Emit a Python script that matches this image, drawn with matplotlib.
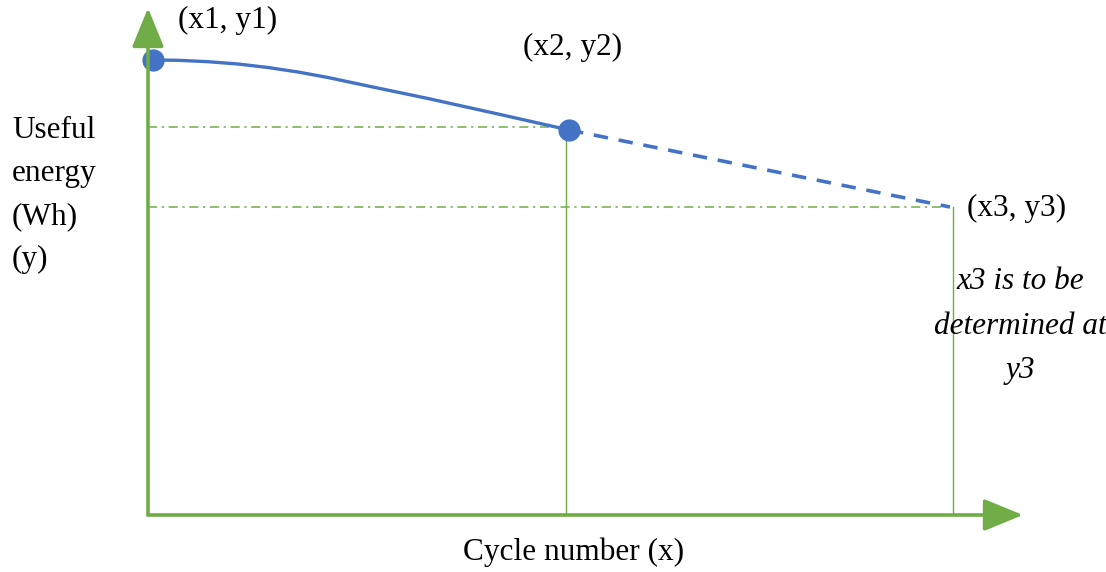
import matplotlib
matplotlib.use("Agg")
import matplotlib.pyplot as plt

# curve (x = cycle number, y = useful energy), arbitrary units
curve_x = [5, 30, 60, 90, 120, 150, 180, 220, 280, 350, 421]
curve_y = [455, 454.7, 453.3, 451, 447.5, 443, 437.5, 429, 416.5, 401, 385]

point_x = [5, 421, 802]
point_y = [455, 385, 308]
point_labels = ["(x1, y1)", "(x2, y2)", "(x3, y3)"]

BLUE = "#4472C4"
GREEN = "#70AD47"

plt.rcParams['font.family'] = ['Liberation Serif', 'DejaVu Serif']

fig = plt.figure(figsize=(11.06, 5.72), dpi=100)
ax = fig.add_axes([0, 0, 1, 1])
ax.set_xlim(-148, 1106 - 148)
ax.set_ylim(515 - 572, 515)
ax.axis('off')

# axes with arrow heads
arrow = dict(arrowstyle='-|>,head_length=1.1,head_width=0.45', color=GREEN,
             lw=2.6, mutation_scale=22, shrinkA=0, shrinkB=0)
ax.annotate('', xy=(0, 507), xytext=(0, 0), arrowprops=arrow)
ax.annotate('', xy=(875, 0), xytext=(0, 0), arrowprops=arrow)

# guide lines
dashdot = (0, (6, 3, 1.5, 3))
ax.plot([0, point_x[1]], [point_y[1] + 3, point_y[1] + 3], color=GREEN, lw=1.1, ls=dashdot)
ax.plot([0, point_x[2]], [point_y[2], point_y[2]], color=GREEN, lw=1.1, ls=dashdot)
ax.plot([point_x[1] - 3, point_x[1] - 3], [0, point_y[1]], color=GREEN, lw=1.0)
ax.plot([point_x[2] + 3, point_x[2] + 3], [0, point_y[2]], color=GREEN, lw=1.0)

# measured part and extrapolation
ax.plot(curve_x, curve_y, color=BLUE, lw=2.4, solid_capstyle='round',
        solid_joinstyle='round')
ax.plot(point_x[1:], point_y[1:], color=BLUE, lw=2.6, ls=(0, (4, 3)))
ax.plot(point_x[:2], point_y[:2], 'o', color=BLUE, ms=15)

fs = 22.5
ax.text(30, 495, point_labels[0], fontsize=fs, ha='left', va='center')
ax.text(375, 468, point_labels[1], fontsize=fs, ha='left', va='center')
ax.text(819, 307, point_labels[2], fontsize=fs, ha='left', va='center')

ax.text(872, 189, "x3 is to be\ndetermined at\ny3", fontsize=fs, style='italic',
        ha='center', va='center', linespacing=1.7)
ax.text(-136, 320, "Useful\nenergy\n(Wh)\n(y)", fontsize=fs, ha='left', va='center',
        linespacing=1.62)
ax.text(426, -37, "Cycle number (x)", fontsize=fs, ha='center', va='center')

fig.savefig("out.png", dpi=100)
